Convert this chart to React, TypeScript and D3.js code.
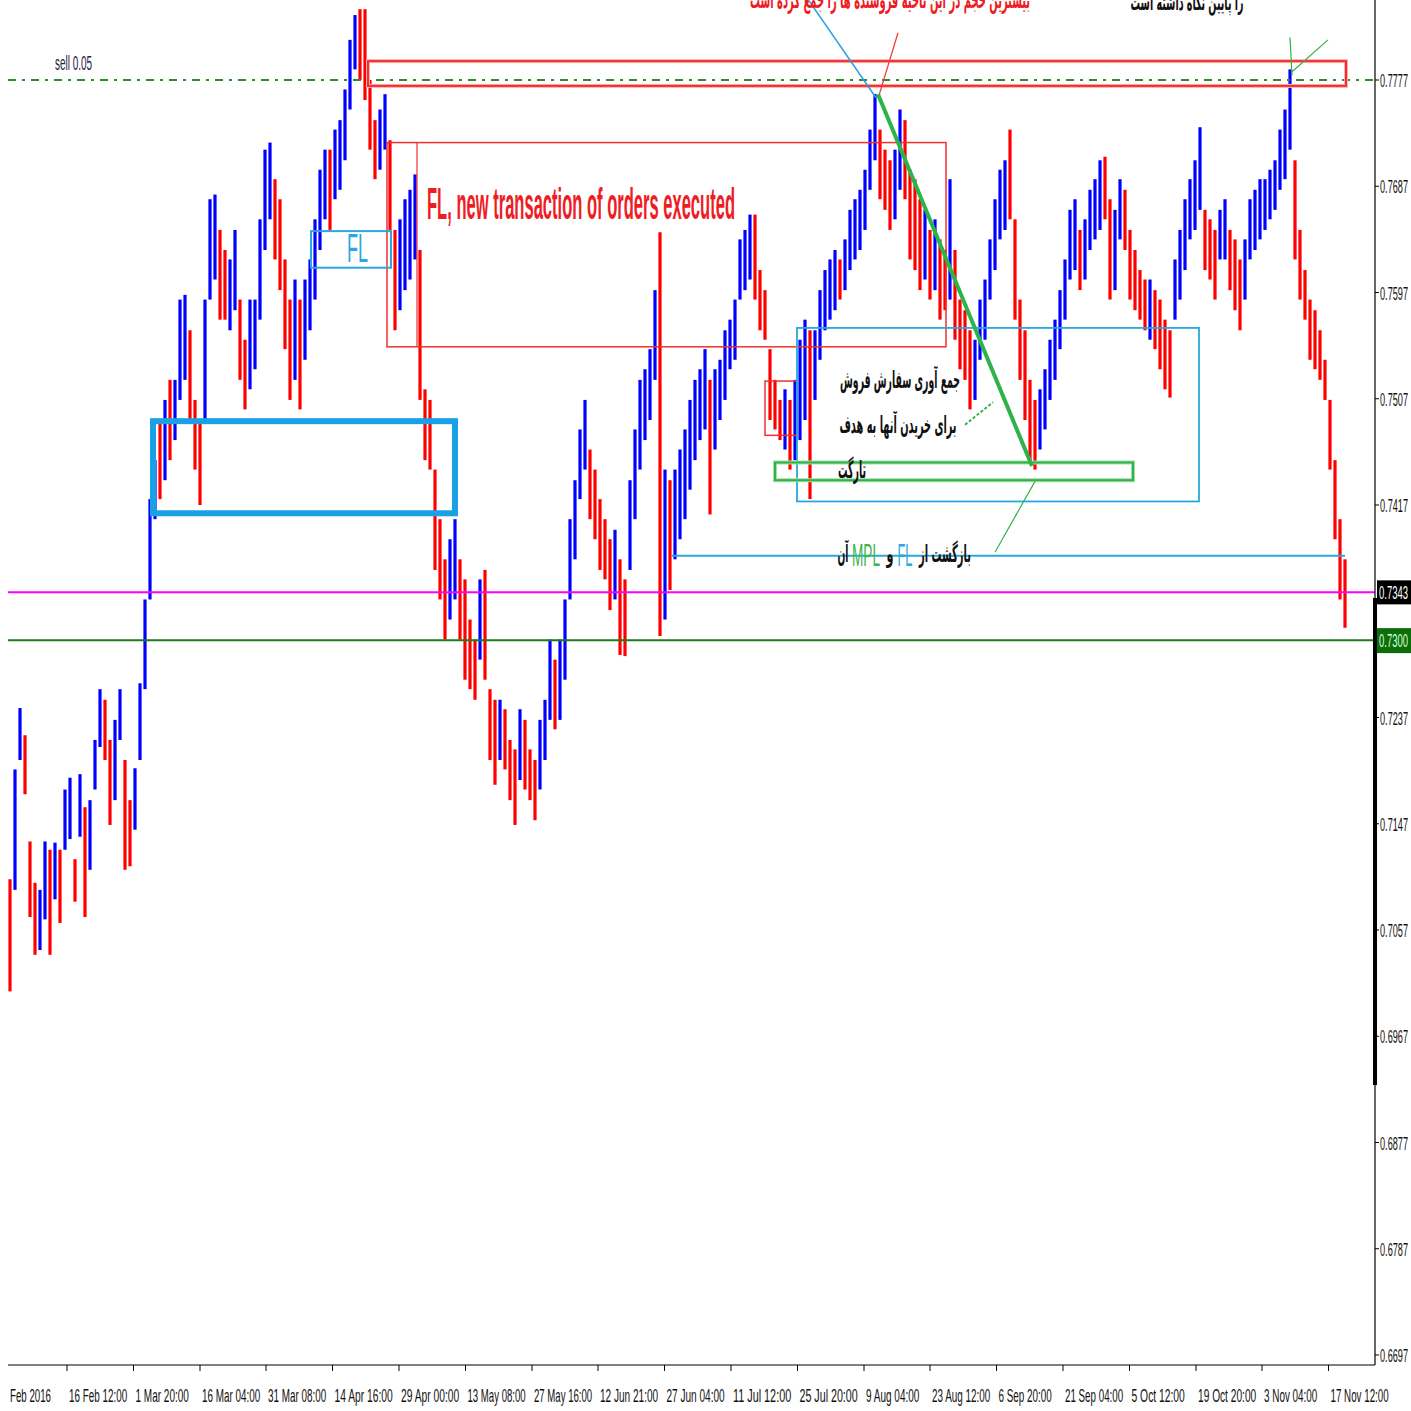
import React from 'react';
import * as d3 from 'd3';

// ---- data (prices in pips, 1 pip = 0.0001) ----
const highsPips = [
  7100, 7193, 7245, 7222, 7132, 7097, 7091, 7132, 7125, 7131,
  7125, 7176, 7186, 7117, 7189, 7161, 7167, 7218, 7261, 7252,
  7218, 7235, 7261, 7201, 7167, 7194, 7266, 7337, 7422, 7455,
  7489, 7506, 7523, 7523, 7591, 7595, 7565, 7506, 7489, 7591,
  7676, 7680, 7650, 7633, 7625, 7650, 7591, 7557, 7591, 7591,
  7659, 7718, 7724, 7693, 7676, 7625, 7591, 7608, 7591, 7608,
  7625, 7659, 7701, 7718, 7718, 7735, 7743, 7769, 7811, 7832,
  7837, 7837, 7777, 7743, 7752, 7765, 7726, 7650, 7659, 7676,
  7684, 7697, 7633, 7515, 7506, 7447, 7405, 7371, 7388, 7405,
  7371, 7354, 7320, 7303, 7354, 7362, 7261, 7252, 7252, 7244,
  7218, 7210, 7244, 7235, 7210, 7201, 7235, 7252, 7303, 7286,
  7303, 7337, 7405, 7438, 7481, 7506, 7464, 7447, 7422, 7405,
  7388, 7396, 7371, 7354, 7438, 7481, 7523, 7532, 7549, 7599,
  7648, 7447, 7438, 7447, 7464, 7481, 7506, 7523, 7532, 7549,
  7523, 7532, 7540, 7565, 7574, 7591, 7642, 7650, 7663, 7663,
  7616, 7599, 7549, 7523, 7506, 7515, 7506, 7523, 7557, 7574,
  7565, 7565, 7599, 7616, 7625, 7633, 7625, 7642, 7667, 7676,
  7684, 7701, 7735, 7765, 7735, 7718, 7709, 7718, 7752, 7743,
  7701, 7693, 7676, 7667, 7650, 7659, 7642, 7633, 7693, 7633,
  7591, 7582, 7565, 7557, 7591, 7608, 7642, 7676, 7701, 7709,
  7735, 7659, 7591, 7565, 7523, 7506, 7515, 7532, 7557, 7574,
  7599, 7625, 7667, 7676, 7650, 7659, 7684, 7693, 7709, 7712,
  7676, 7667, 7693, 7684, 7650, 7633, 7616, 7608, 7608, 7599,
  7591, 7574, 7565, 7625, 7650, 7676, 7693, 7709, 7737, 7667,
  7659, 7650, 7667, 7676, 7650, 7642, 7625, 7642, 7676, 7684,
  7693, 7693, 7701, 7709, 7735, 7752, 7786, 7709, 7650, 7616,
  7591, 7582, 7565, 7540, 7506, 7455, 7405, 7371,
];

const lowsPips = [
  7005, 7091, 7201, 7172, 7068, 7036, 7040, 7066, 7036, 7083,
  7063, 7125, 7134, 7081, 7136, 7068, 7108, 7176, 7212, 7201,
  7146, 7167, 7218, 7108, 7111, 7142, 7201, 7261, 7337, 7405,
  7422, 7438, 7455, 7472, 7506, 7523, 7489, 7447, 7417, 7489,
  7591, 7608, 7574, 7574, 7565, 7582, 7523, 7498, 7515, 7532,
  7574, 7633, 7659, 7625, 7599, 7549, 7506, 7523, 7498, 7540,
  7565, 7591, 7633, 7659, 7650, 7676, 7684, 7709, 7752, 7786,
  7777, 7760, 7718, 7693, 7701, 7718, 7650, 7565, 7582, 7599,
  7608, 7625, 7506, 7455, 7447, 7362, 7337, 7303, 7320, 7337,
  7303, 7269, 7261, 7252, 7286, 7269, 7201, 7180, 7201, 7193,
  7167, 7146, 7184, 7176, 7167, 7150, 7176, 7201, 7235, 7227,
  7235, 7269, 7337, 7371, 7422, 7447, 7405, 7388, 7362, 7354,
  7328, 7337, 7290, 7289, 7362, 7405, 7447, 7472, 7489, 7523,
  7306, 7320, 7345, 7371, 7388, 7405, 7430, 7455, 7472, 7481,
  7409, 7464, 7489, 7506, 7532, 7540, 7591, 7599, 7608, 7591,
  7565, 7557, 7489, 7481, 7472, 7464, 7447, 7455, 7472, 7489,
  7422, 7506, 7540, 7565, 7574, 7582, 7591, 7599, 7616, 7625,
  7633, 7650, 7684, 7709, 7676, 7667, 7650, 7659, 7684, 7676,
  7625, 7616, 7599, 7608, 7591, 7599, 7574, 7582, 7591, 7557,
  7532, 7523, 7498, 7506, 7540, 7557, 7591, 7616, 7642, 7650,
  7659, 7574, 7523, 7489, 7455, 7447, 7464, 7481, 7506, 7523,
  7549, 7574, 7608, 7616, 7599, 7608, 7633, 7642, 7650, 7659,
  7591, 7599, 7642, 7633, 7591, 7582, 7574, 7565, 7557, 7549,
  7532, 7515, 7508, 7574, 7591, 7616, 7642, 7650, 7667, 7616,
  7608, 7591, 7625, 7625, 7599, 7582, 7565, 7591, 7625, 7633,
  7642, 7650, 7659, 7667, 7684, 7693, 7718, 7625, 7591, 7574,
  7540, 7532, 7523, 7506, 7447, 7388, 7337, 7313,
];

// u = bullish (blue), d = bearish (red)
const barDirections = (
  'duuddduudu' + 'duududuuud' + 'duudduuuuu' + 'duduuudddu' + 'uudduudduu' +
  'uuuddddudu' + 'uuuuduuuuu' + 'dddduudduu' + 'uudddddduu' + 'ddddudddud' +
  'dduddduuud' + 'uuuuuudddd' + 'dudduuuuuu' + 'duduuuuuuu' + 'duuuuuuuud' +
  'ddddduduuu' + 'duuuuuduuu' + 'uuuuddduud' + 'dddududdud' + 'ddduuuuuuu' +
  'dddddduuuu' + 'uuuuduuuud' + 'duudddddud' + 'ddduuuuuud' + 'dduuddduuu' +
  'uuuuuuuddd' + 'dddddddd'
).split('');

const priceTicks = [0.7777, 0.7687, 0.7597, 0.7507, 0.7417, 0.7237, 0.7147, 0.7057, 0.6967, 0.6877, 0.6787, 0.6697];
const firstTimeLabel = 'Feb 2016';
const timeLabels = [
  '16 Feb 12:00', '1 Mar 20:00', '16 Mar 04:00', '31 Mar 08:00', '14 Apr 16:00',
  '29 Apr 00:00', '13 May 08:00', '27 May 16:00', '12 Jun 21:00', '27 Jun 04:00',
  '11 Jul 12:00', '25 Jul 20:00', '9 Aug 04:00', '23 Aug 12:00', '6 Sep 20:00',
  '21 Sep 04:00', '5 Oct 12:00', '19 Oct 20:00', '3 Nov 04:00', '17 Nov 12:00',
];
const timeLabelBars = [11.4, 24.7, 38.0, 51.2, 64.5, 77.8, 91.1, 104.4, 117.6, 130.9, 144.2, 157.5, 170.8, 184.0, 197.3, 210.6, 223.9, 237.2, 250.4, 263.7];

const sellLevel = 0.7777;
const bidLevel = 0.7343;
const supportLevel = 0.7300;

const LATIN = "'Liberation Sans Narrow', 'Liberation Sans', Arial, sans-serif";
const PERSIAN = "'DejaVu Sans', 'Noto Sans', sans-serif";

export default function App() {
  const W = 1411, H = 1411;
  const N = highsPips.length;
  const x = d3.scaleLinear().domain([0, N - 1]).range([10, 1345]);
  const y = d3.scaleLinear().domain([0.6697, 0.7777]).range([1355, 80]);
  const plotLeft = 8, plotRight = 1375, axisBottom = 1365;

  const bars = highsPips.map((h, i) => ({
    i, high: h / 10000, low: lowsPips[i] / 10000, up: barDirections[i] === 'u',
  }));

  const rect = (i0: number, i1: number, p0: number, p1: number) => ({
    x: x(i0), y: y(p0), width: x(i1) - x(i0), height: y(p1) - y(p0),
  });
  const seg = (i0: number, p0: number, i1: number, p1: number) => ({
    x1: x(i0), y1: y(p0), x2: x(i1), y2: y(p1),
  });

  const redBand = rect(71.6, 267.2, 0.7793, 0.7772);
  const redBox = rect(75.4, 187.2, 0.7724, 0.7551);
  const redSmall = rect(151, 157.4, 0.7522, 0.7476);
  const flBox = rect(60.2, 76.2, 0.7649, 0.7618);
  const thickBlue = rect(28.6, 89, 0.7488, 0.7410);
  const blueBox = rect(157.4, 237.8, 0.7567, 0.7420);
  const greenBox = rect(153, 224.6, 0.7453, 0.7438);

  return (
    <svg width={W} height={H} style={{ position: 'absolute', left: 0, top: 0, background: '#fff' }}
      xmlns="http://www.w3.org/2000/svg">
      <rect x={0} y={0} width={W} height={H} fill="#fff" />

      {/* bars */}
      <g>
        {bars.map((b) => (
          <line key={b.i} x1={x(b.i)} x2={x(b.i)} y1={y(b.high)} y2={y(b.low)}
            stroke={b.up ? '#0000ff' : '#ff0000'} strokeWidth={3.2} />
        ))}
      </g>

      {/* horizontal levels */}
      <line x1={plotLeft} x2={plotRight} y1={y(sellLevel)} y2={y(sellLevel)} stroke="#2a8f2a" strokeWidth={2.2} strokeDasharray="8 6 3 6" />
      <line x1={plotLeft} x2={plotRight} y1={y(bidLevel)} y2={y(bidLevel)} stroke="#ff00ff" strokeWidth={2} />
      <line x1={plotLeft} x2={plotRight} y1={y(supportLevel) - 3} y2={y(supportLevel) - 3} stroke="#1d7a1d" strokeWidth={2} />

      {/* rectangles */}
      <rect {...redBand} fill="none" stroke="#ffb0b0" strokeWidth={4} />
      <rect {...redBand} fill="none" stroke="#f03030" strokeWidth={2} />
      <rect {...redBox} fill="none" stroke="#f03030" strokeWidth={1.5} />
      <line {...seg(81.4, 0.7724, 81.4, 0.7551)} stroke="#f03030" strokeWidth={1.2} />
      <rect {...redSmall} fill="none" stroke="#f03030" strokeWidth={1.5} />
      <rect {...flBox} fill="none" stroke="#29a8e0" strokeWidth={2} />
      <rect {...thickBlue} fill="none" stroke="#1aa0e4" strokeWidth={6} />
      <rect {...blueBox} fill="none" stroke="#29a8e0" strokeWidth={1.8} />
      <line {...seg(132.4, 0.7374, 267, 0.7374)} stroke="#29a8e0" strokeWidth={2.2} />
      <rect {...greenBox} fill="none" stroke="#9fe0a8" strokeWidth={4} />
      <rect {...greenBox} fill="none" stroke="#33b04a" strokeWidth={2} />

      {/* trend & pointer lines */}
      <line {...seg(159, 0.7849, 173.2, 0.7762)} stroke="#29a0e0" strokeWidth={1.5} />
      <line {...seg(177.6, 0.7817, 173.8, 0.7764)} stroke="#f04040" strokeWidth={1.3} />
      <line {...seg(173.6, 0.7765, 204.4, 0.7450)} stroke="#2eb34a" strokeWidth={4} />
      <line {...seg(197, 0.7377, 205, 0.7437)} stroke="#33b04a" strokeWidth={1.2} />
      <line {...seg(191, 0.7485, 196.6, 0.7504)} stroke="#33b04a" strokeWidth={2} strokeDasharray="3 2" />
      <line {...seg(256, 0.7813, 256.4, 0.7781)} stroke="#33b04a" strokeWidth={1.2} />
      <line {...seg(256.4, 0.7784, 263.6, 0.7811)} stroke="#33b04a" strokeWidth={1.2} />

      {/* annotation texts */}
      <text x={55} y={70} fontFamily={LATIN} fontSize={20} fill="#222244" textLength={37} lengthAdjust="spacingAndGlyphs">sell 0.05</text>
      <text x={427} y={219} fontFamily={LATIN} fontWeight="bold" fontSize={44} fill="#ee1c24" textLength={308} lengthAdjust="spacingAndGlyphs">FL, new transaction of orders executed</text>
      <text x={347} y={262} fontFamily={LATIN} fontSize={40} fill="#29a8e0" textLength={21} lengthAdjust="spacingAndGlyphs">FL</text>

      <text x={890} y={8} textAnchor="middle" fontFamily={PERSIAN} fontWeight="bold" fontSize={24} fill="#ee1c24" textLength={280} lengthAdjust="spacingAndGlyphs">بیشترین حجم در این ناحیه فروشنده ها را جمع کرده است</text>
      <text x={1187} y={10} textAnchor="middle" fontFamily={PERSIAN} fontWeight="bold" fontSize={22} fill="#111" textLength={113} lengthAdjust="spacingAndGlyphs">را پایین نگاه داشته است</text>
      <text x={900} y={388} textAnchor="middle" fontFamily={PERSIAN} fontWeight="bold" fontSize={24} fill="#111" textLength={120} lengthAdjust="spacingAndGlyphs">جمع آوری سفارش فروش</text>
      <text x={898} y={433} textAnchor="middle" fontFamily={PERSIAN} fontWeight="bold" fontSize={24} fill="#111" textLength={117} lengthAdjust="spacingAndGlyphs">برای خریدن آنها به هدف</text>
      <text x={852} y={478} textAnchor="middle" fontFamily={PERSIAN} fontWeight="bold" fontSize={24} fill="#111" textLength={28} lengthAdjust="spacingAndGlyphs">تارگت</text>
      <text x={945} y={562} textAnchor="middle" fontFamily={PERSIAN} fontWeight="bold" fontSize={24} fill="#111" textLength={52} lengthAdjust="spacingAndGlyphs">بازگشت از</text>
      <text x={905} y={566} textAnchor="middle" fontFamily={LATIN} fontSize={32} fill="#29a8e0" textLength={15} lengthAdjust="spacingAndGlyphs">FL</text>
      <text x={890} y={562} textAnchor="middle" fontFamily={PERSIAN} fontWeight="bold" fontSize={24} fill="#111" textLength={7} lengthAdjust="spacingAndGlyphs">و</text>
      <text x={866} y={566} textAnchor="middle" fontFamily={LATIN} fontSize={32} fill="#3cb44b" textLength={28} lengthAdjust="spacingAndGlyphs">MPL</text>
      <text x={843} y={562} textAnchor="middle" fontFamily={PERSIAN} fontWeight="bold" fontSize={24} fill="#111" textLength={11} lengthAdjust="spacingAndGlyphs">آن</text>

      {/* axes */}
      <line x1={plotRight} x2={plotRight} y1={0} y2={axisBottom} stroke="#000" strokeWidth={1.2} />
      <line x1={plotLeft} x2={plotRight} y1={axisBottom} y2={axisBottom} stroke="#000" strokeWidth={1.2} />
      <line x1={plotRight} x2={plotRight} y1={598} y2={1085} stroke="#000" strokeWidth={4} />
      {priceTicks.map((p) => (
        <g key={p}>
          <line x1={plotRight} x2={plotRight + 4} y1={y(p)} y2={y(p)} stroke="#000" />
          <text x={1380} y={y(p) + 7} fontFamily={LATIN} fontSize={19} fill="#111" textLength={28} lengthAdjust="spacingAndGlyphs">{p.toFixed(4)}</text>
        </g>
      ))}
      <text x={10} y={1402} fontFamily={LATIN} fontSize={19} fill="#111" textLength={41} lengthAdjust="spacingAndGlyphs">{firstTimeLabel}</text>
      {timeLabels.map((t, k) => (
        <g key={t}>
          <line x1={x(timeLabelBars[k])} x2={x(timeLabelBars[k])} y1={axisBottom} y2={axisBottom + 6} stroke="#000" />
          <text x={x(timeLabelBars[k]) + 2} y={1402} fontFamily={LATIN} fontSize={19} fill="#111"
            textLength={t.length * 4.85} lengthAdjust="spacingAndGlyphs">{t}</text>
        </g>
      ))}

      {/* current price labels */}
      <rect x={1377} y={y(bidLevel) - 12} width={34} height={24} fill="#000" />
      <text x={1379} y={y(bidLevel) + 7} fontFamily={LATIN} fontSize={19} fill="#fff" textLength={29} lengthAdjust="spacingAndGlyphs">{bidLevel.toFixed(4)}</text>
      <rect x={1377} y={y(supportLevel) - 15} width={34} height={25} fill="#0b6e0b" />
      <text x={1379} y={y(supportLevel) + 4} fontFamily={LATIN} fontSize={19} fill="#d8ffd8" textLength={29} lengthAdjust="spacingAndGlyphs">{supportLevel.toFixed(4)}</text>
    </svg>
  );
}
